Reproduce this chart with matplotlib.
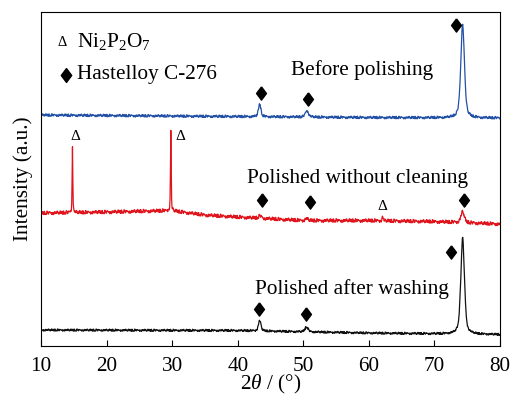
import numpy as np
import matplotlib
matplotlib.use("Agg")
import matplotlib.pyplot as plt

plt.rcParams['font.family'] = ['Liberation Serif', 'DejaVu Serif']
plt.rcParams['mathtext.fontset'] = 'custom'
plt.rcParams['mathtext.rm'] = 'Liberation Serif'
plt.rcParams['mathtext.it'] = 'Liberation Serif:italic'

# ---- data (arbitrary intensity units) ----
two_theta_range = (10, 80)
tick_values = [10, 20, 30, 40, 50, 60, 70, 80]

# baselines: (2theta, intensity)
blue_base_x = [10, 40, 60, 80]
blue_base_y = [231, 229.5, 228.5, 228]
red_base_x = [10, 20, 29.8, 35, 40, 50, 60, 70, 80]
red_base_y = [133, 134, 135.5, 131, 129, 125.5, 125.5, 124.5, 122]
black_base_x = [10, 40, 60, 80]
black_base_y = [16, 15.5, 13, 11.5]

# peaks: position, height, FWHM
blue_peak_pos = [43.35, 50.55, 74.3]
blue_peak_h = [12.5, 6.5, 94]
blue_peak_w = [0.45, 0.55, 0.65]
red_peak_pos = [14.8, 29.8, 43.4, 50.5, 62.1, 74.3]
red_peak_h = [66, 81, 2.5, 2, 4, 11]
red_peak_w = [0.12, 0.12, 0.5, 0.5, 0.2, 0.6]
black_peak_pos = [43.35, 50.5, 74.3]
black_peak_h = [10.5, 5, 96]
black_peak_w = [0.45, 0.55, 0.65]

# hand-read jitter pattern of the noisy traces
jitter = [0.3, -0.6, 0.9, -0.2, -1.0, 0.5, 0.1, 0.8, -0.7, 0.2,
          -0.4, 1.0, -0.9, 0.4, 0.0, -0.3, 0.7, -0.8, 0.6, -0.1,
          0.9, -0.5, -0.2, 0.3, -1.0, 0.8, 0.1, -0.6, 0.5, -0.3,
          0.2, 0.7, -0.9, 0.0, 0.6, -0.4, -0.7, 1.0, -0.2, 0.4,
          -0.8, 0.3, 0.9, -0.1, -0.5, 0.2, -0.9, 0.6, 0.1]

# annotations
blue_dia_x = [43.5, 50.7, 73.3]
blue_dia_y = [253, 247, 321]
red_dia_x = [43.7, 51.0, 74.5]
red_dia_y = [146, 144, 146]
red_delta_x = [15.2, 31.2, 62.1]
red_delta_y = [210, 210, 140]
black_dia_x = [43.3, 50.4, 72.6]
black_dia_y = [37, 32, 94]

labels = ["Before polishing", "Polished without cleaning", "Polished after washing"]
label_x = [58.95, 58.3, 57.35]
label_y = [276, 168, 57]

colors = ["#2351a6", "#e0141c", "#111111"]


def pattern(base_x, base_y, pos, h, w, noise_amp, shift, step):
    x = np.arange(two_theta_range[0], two_theta_range[1] + step / 2, step)
    y = np.interp(x, base_x, base_y)
    for p, hh, ww in zip(pos, h, w):
        g = (ww / 2) ** 2 / ((x - p) ** 2 + (ww / 2) ** 2)
        gg = np.exp(-4 * np.log(2) * (x - p) ** 2 / ww ** 2)
        y = y + hh * (0.5 * g + 0.5 * gg)
    j = np.array(jitter)
    idx = (np.arange(len(x)) * 5 + shift) % len(j)
    y = y + noise_amp * j[idx]
    return x, y


fig = plt.figure(figsize=(5.11, 3.97), dpi=100)
ax = fig.add_axes([41 / 511, (397 - 346) / 397, 459 / 511, 334 / 397])

xb, yb = pattern(blue_base_x, blue_base_y, blue_peak_pos, blue_peak_h, blue_peak_w, 1.3, 0, 0.06)
xr, yr = pattern(red_base_x, red_base_y, red_peak_pos, red_peak_h, red_peak_w, 1.8, 11, 0.06)
xk, yk = pattern(black_base_x, black_base_y, black_peak_pos, black_peak_h, black_peak_w, 1.1, 23, 0.06)

ax.plot(xb, yb, color=colors[0], lw=0.9)
ax.plot(xr, yr, color=colors[1], lw=0.9)
ax.plot(xk, yk, color=colors[2], lw=0.9)

dia = [(0, 1), (0.75, 0), (0, -1), (-0.75, 0), (0, 1)]
for xs, ys in [(blue_dia_x, blue_dia_y), (red_dia_x, red_dia_y), (black_dia_x, black_dia_y)]:
    ax.plot(xs, ys, linestyle='none', marker=dia, markersize=9.5, color='black')
for xx, yy in zip(red_delta_x, red_delta_y):
    ax.text(xx, yy, "Δ", ha='center', va='center', fontsize=11)

for t, xx, yy in zip(labels, label_x, label_y):
    ax.text(xx, yy, t, ha='center', va='center', fontsize=15.3)

# legend
ax.text(13.2, 304, "Δ", ha='center', va='center', fontsize=10.5)
ax.text(15.5, 304, "Ni$_2$P$_2$O$_7$", ha='left', va='center', fontsize=15.3)
ax.plot([13.8], [271], linestyle='none', marker=dia, markersize=10, color='black')
ax.text(15.5, 271, "Hastelloy C-276", ha='left', va='center', fontsize=15.3)

ax.set_xlim(*two_theta_range)
ax.set_ylim(0, 334)
ax.set_xticks(tick_values)
ax.set_xticklabels([str(v) for v in tick_values], fontsize=15.3)
ax.set_yticks([])
ax.tick_params(axis='x', direction='in', length=4.5, width=0.8, pad=8)
for s in ax.spines.values():
    s.set_linewidth(0.8)
ax.set_xlabel("2$\\mathit{\\theta}$ / (°)", fontsize=15.3, labelpad=-2)
ax.set_ylabel("Intensity (a.u.)", fontsize=15.3, labelpad=6)

fig.savefig("out.png", dpi=100)
